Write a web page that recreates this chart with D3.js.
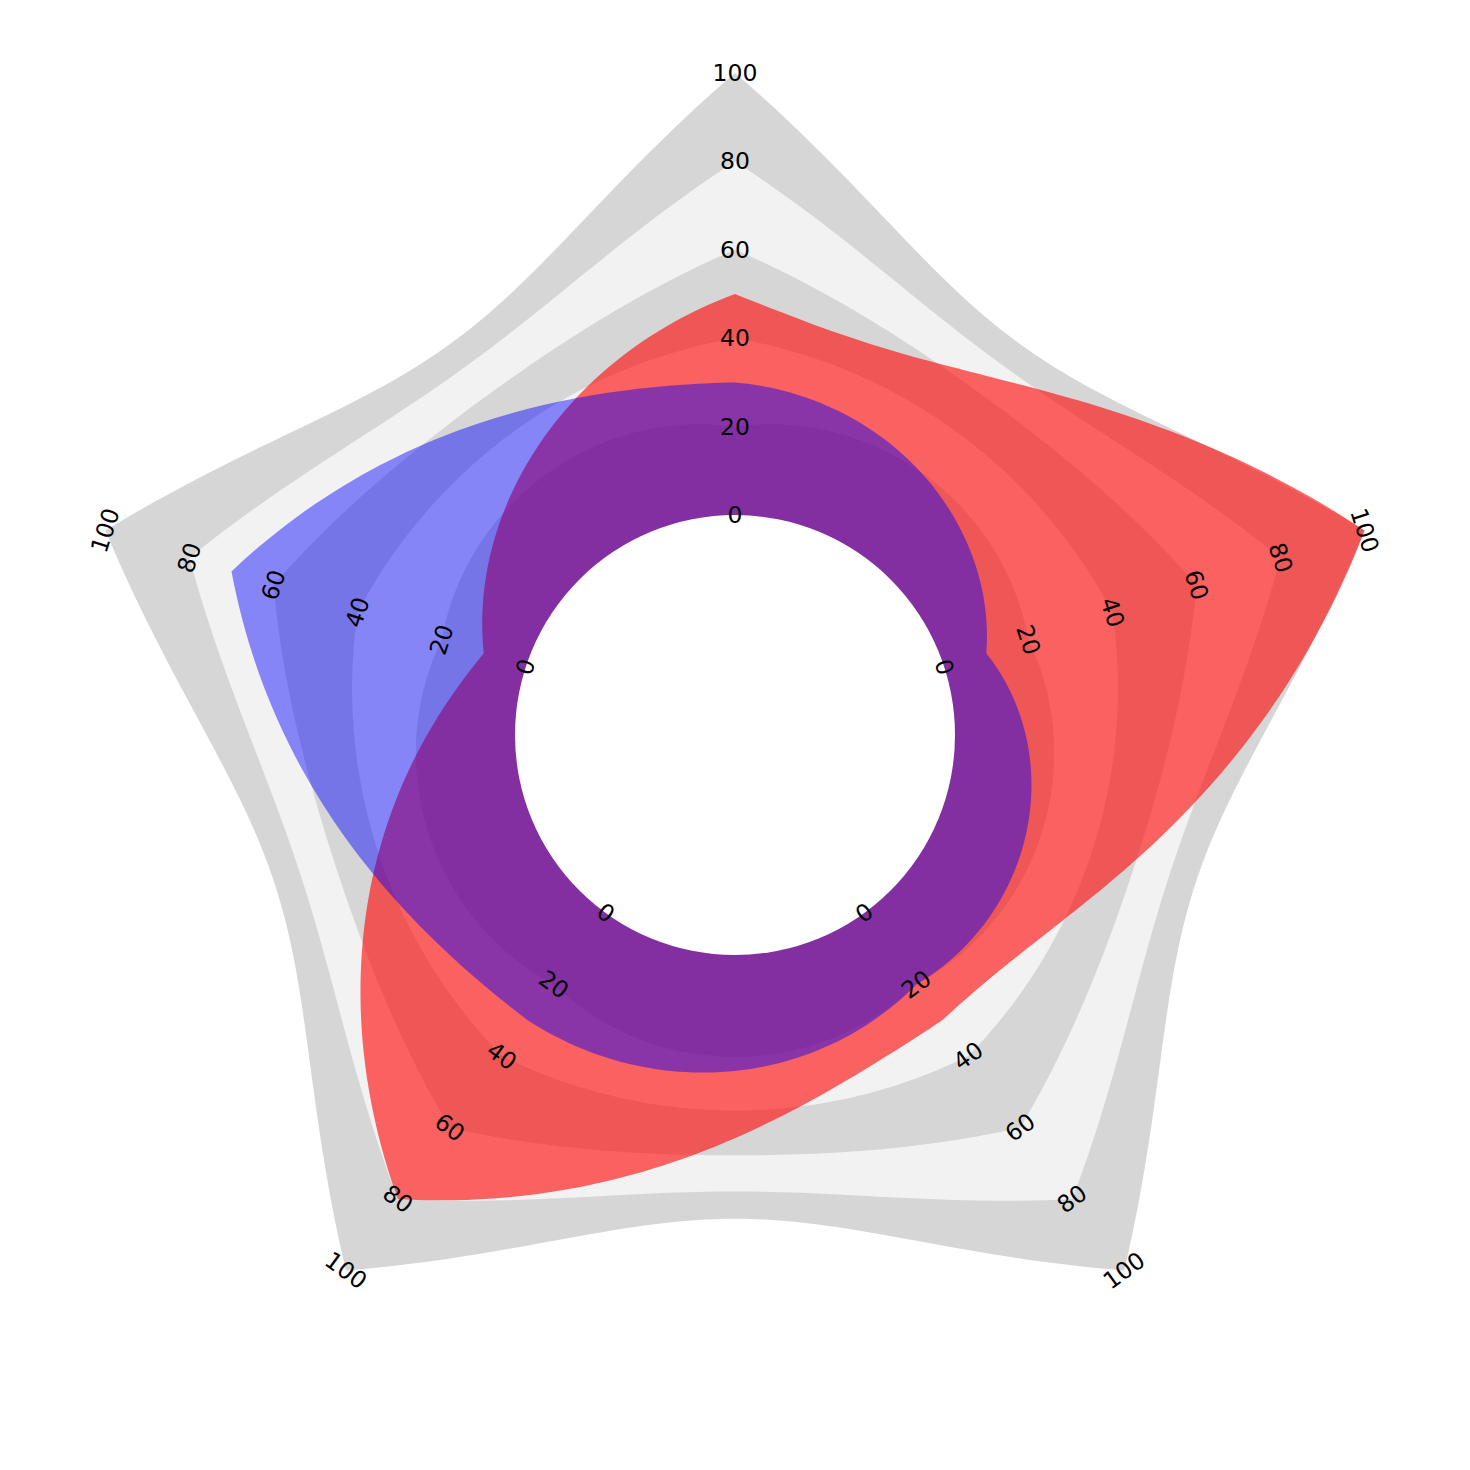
<!DOCTYPE html>
<html><head><meta charset="utf-8">
<script src="https://cdn.jsdelivr.net/npm/d3@7"></script>
<style>html,body{margin:0;padding:0;background:#fff;} svg{display:block;}</style>
</head><body>
<svg id="chart" width="1470" height="1470"></svg>
<script>
// ---- data ----
const axisNames = ["Axis 1", "Axis 2", "Axis 3", "Axis 4", "Axis 5"];
const tickValues = [0, 20, 40, 60, 80, 100];
const ringValues = [100, 80, 60, 40, 20];
const ringColors = ["#d6d6d6", "#f2f2f2", "#d6d6d6", "#f2f2f2", "#d6d6d6"];
const redValues = [50, 100, 30, 80, 10];
const blueValues = [30, 10, 20, 30, 70];

// ---- layout ----
const W = 1470, H = 1470, cx = 735, cy = 735;
const svg = d3.select("#chart").attr("width", W).attr("height", H);
const g = svg.append("g").attr("transform", `translate(${cx},${cy})`);

const r = d3.scaleLinear().domain([0, 100]).range([220, 662]);
const angle = d3.scaleLinear().domain([0, axisNames.length]).range([0, 2 * Math.PI]);

// curved edge: radial interpolation with a sag that depends on edge radii
function sag(R0, R1) { return 66.75 - 0.000559 * (R0 * R0 + R1 * R1) / 2; }
function shapePoints(values) {
  const n = values.length, pts = [], steps = 60;
  for (let k = 0; k < n; k++) {
    const R0 = r(values[k]), R1 = r(values[(k + 1) % n]), S = sag(R0, R1);
    for (let j = 0; j < steps; j++) {
      const s = j / steps;
      pts.push([angle(k + s), R0 + (R1 - R0) * s + S * 4 * s * (1 - s)]);
    }
  }
  return pts;
}
const radial = d3.lineRadial().angle(d => d[0]).radius(d => d[1]).curve(d3.curveLinearClosed);

// rings
ringValues.forEach((v, i) => {
  g.append("path")
    .attr("d", radial(shapePoints(axisNames.map(() => v))))
    .attr("fill", ringColors[i]);
});

// series
g.append("path").attr("d", radial(shapePoints(redValues)))
  .attr("fill", "#ff0000").attr("fill-opacity", 0.6);
g.append("path").attr("d", radial(shapePoints(blueValues)))
  .attr("fill", "#0000ff").attr("fill-opacity", 0.45);

// centre hole
g.append("circle").attr("r", r(0)).attr("fill", "#ffffff");

// range labels
axisNames.forEach((name, k) => {
  const a = angle(k);
  let deg = a * 180 / Math.PI;
  let rot = deg;
  if (deg > 90 && deg < 270) rot = deg - 180;
  tickValues.forEach(t => {
    const R = r(t);
    const x = R * Math.sin(a), y = -R * Math.cos(a);
    g.append("text")
      .attr("transform", `translate(${x},${y}) rotate(${rot})`)
      .attr("text-anchor", "middle")
      .attr("dominant-baseline", "central")
      .attr("font-family", "DejaVu Sans, sans-serif")
      .attr("font-size", 23.5)
      .attr("fill", "#000")
      .text(t);
  });
});
</script>
</body></html>
